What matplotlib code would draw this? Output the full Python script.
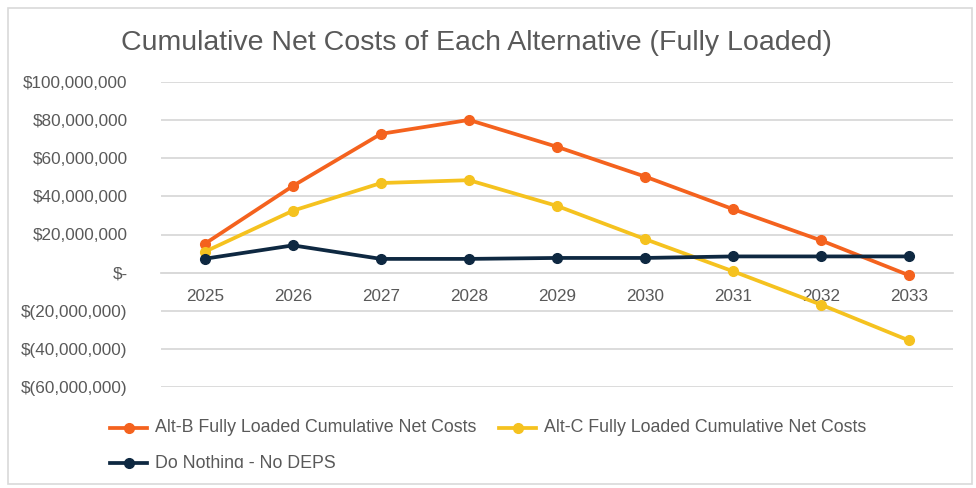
import matplotlib
matplotlib.use("Agg")
import matplotlib.pyplot as plt
from matplotlib.lines import Line2D
from matplotlib.patches import Rectangle
from matplotlib.ticker import FuncFormatter
import numpy as np

years = ["2025", "2026", "2027", "2028", "2029", "2030", "2031", "2032", "2033"]
alt_b = [15.2e6, 45.5e6, 72.8e6, 80.1e6, 66.0e6, 50.4e6, 33.3e6, 16.9e6, -1.4e6]
alt_c = [11.0e6, 32.5e6, 47.0e6, 48.5e6, 35.0e6, 17.6e6, 0.7e6, -16.8e6, -35.6e6]
do_nothing = [7.3e6, 14.3e6, 7.2e6, 7.2e6, 7.7e6, 7.7e6, 8.5e6, 8.5e6, 8.5e6]
series_names = ["Alt-B Fully Loaded Cumulative Net Costs",
                "Alt-C Fully Loaded Cumulative Net Costs",
                "Do Nothing - No DEPS"]
title = "Cumulative Net Costs of Each Alternative (Fully Loaded)"
yticks = [-60e6, -40e6, -20e6, 0, 20e6, 40e6, 60e6, 80e6, 100e6]

colors = ["#F4621E", "#F5C21F", "#0E2841"]
text_color = "#595959"
font = "Liberation Sans"

W, H = 976, 488
fig = plt.figure(figsize=(W / 100, H / 100), dpi=100)
fig.patch.set_facecolor("white")

# outer frame
fig.add_artist(Rectangle((8 / W, 4 / H), (972 - 8) / W, (480 - 4) / H,
                         transform=fig.transFigure, fill=False,
                         edgecolor="#D9D9D9", linewidth=1.2))

ax = fig.add_axes([161 / W, 1 - 387 / H, (953 - 161) / W, (387 - 82) / H])
x = np.arange(len(years))
for vals, c in zip([alt_b, alt_c, do_nothing], colors):
    ax.plot(x, vals, color=c, linewidth=2.7, marker="o", markersize=7,
            solid_capstyle="round", zorder=3)

ax.set_xlim(-0.5, len(years) - 0.5)
ax.set_ylim(-60e6, 100e6)
ax.set_yticks(yticks)
ax.grid(axis="y", color="#D9D9D9", linewidth=1.3, zorder=0)
for s in ["top", "right", "left"]:
    ax.spines[s].set_visible(False)
ax.spines["bottom"].set_position(("data", 0))
ax.spines["bottom"].set_color("#D9D9D9")
ax.spines["bottom"].set_linewidth(1.3)
ax.set_xticks(x)
ax.set_xticklabels(years)
ax.tick_params(axis="x", length=0, pad=12, labelsize=12.3, labelcolor=text_color)
ax.tick_params(axis="y", length=0, pad=24, labelsize=12.3, labelcolor=text_color)


def fmt(v, pos):
    if v == 0:
        return "$-"
    if v < 0:
        return "$({:,.0f})".format(-v)
    return "${:,.0f}".format(v)


ax.yaxis.set_major_formatter(FuncFormatter(fmt))
for lab in ax.get_xticklabels() + ax.get_yticklabels():
    lab.set_fontfamily(font)

fig.text(476 / W, 1 - 43 / H, title, ha="center", va="center",
         fontsize=20.5, color=text_color, family=font)

# legend (manual, last row clipped like the reference)
clip = Rectangle((0, 1 - 468 / H), 1, 468 / H, transform=fig.transFigure,
                 visible=False)
fig.add_artist(clip)
entries = [(110, 428), (499, 428), (110, 463)]
for (lx, ly), name, c in zip(entries, series_names, colors):
    yy = 1 - ly / H
    ln = Line2D([lx / W, (lx + 37) / W], [yy, yy], transform=fig.transFigure,
                color=c, linewidth=2.7)
    mk = Line2D([(lx + 18.5) / W], [yy], transform=fig.transFigure, color=c,
                marker="o", markersize=7, linestyle="none")
    fig.add_artist(ln)
    fig.add_artist(mk)
    t = fig.text((lx + 45) / W, yy, name, ha="left", va="center",
                 fontsize=12.8, color=text_color, family=font)
    t.set_clip_path(clip)

fig.savefig("out.png", dpi=100, facecolor="white")
